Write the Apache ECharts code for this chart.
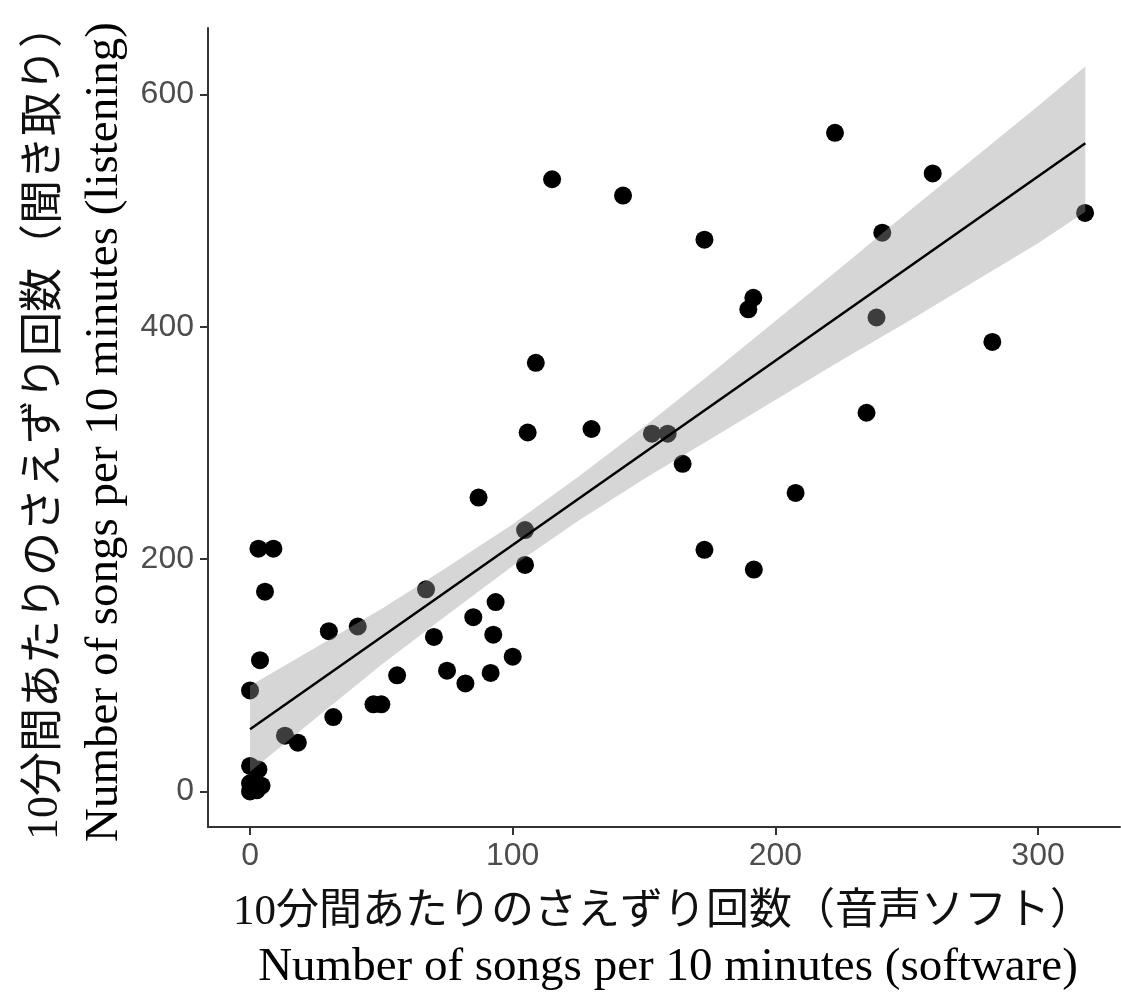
<!DOCTYPE html>
<html>
<head>
<meta charset="utf-8">
<script src="https://cdn.jsdelivr.net/npm/echarts@6/dist/echarts.min.js"></script>
<style>
  html, body { margin: 0; padding: 0; background: #fff; }
  #chart { width: 1121px; height: 997px; }
</style>
</head>
<body>
<div id="chart"></div>
<script>
// songs per 10 min: software count (x) vs listening count (y)
var softwareCounts = [0, 3.2, 8.9, 5.7, 3.8, 0, 3.2, 0, 4.4, 0, 2.5,
  13.3, 18.2, 30, 31.7, 41, 47, 50, 56, 67, 70, 75, 82, 85, 87, 91.6, 92.6, 93.5,
  100, 104.7, 104.7, 105.7, 108.8, 115, 130, 142, 153, 159, 164.7, 173, 173,
  189.7, 191.6, 191.8, 207.7, 222.7, 234.7, 238.5, 240.7, 259.9, 282.6, 317.9];
var listeningCounts = [87, 209, 209, 172, 113, 22, 19, 7, 5, 0, 1,
  48, 42, 138, 64, 142, 75, 75, 100, 174, 133, 104, 93, 150, 253, 102, 135, 163,
  116, 225, 195, 309, 369, 527, 312, 513, 308, 308, 282, 475, 208,
  415, 425, 191, 257, 567, 326, 408, 481, 532, 387, 498];

// fitted line ends
var fitX = [0, 318];
var fitY = [53.5, 558];

// confidence band
var bandX = [0, 25, 50, 75, 100, 125, 150, 175, 200, 225, 250, 275, 300, 318];
var bandUpper = [91, 124, 157, 193, 230, 271, 314, 359, 405, 451, 498, 544, 590, 624];
var bandLower = [17, 63, 109, 152, 194, 233, 269, 303, 337, 371, 404, 438, 472, 499];

var xTicks = [0, 100, 200, 300];
var yTicks = [0, 200, 400, 600];

var chart = echarts.init(document.getElementById("chart"));

var points = softwareCounts.map(function (x, i) {
  return [x, listeningCounts[i]];
});
var fitLine = fitX.map(function (x, i) {
  return [x, fitY[i]];
});

var titleJa = "'Liberation Serif', 'Noto Sans CJK JP'";

var option = {
  animation: false,
  backgroundColor: "#fff",
  grid: {
    left: 208,
    right: 1,
    top: 28,
    bottom: 170,
  },
  xAxis: {
    type: "value",
    min: -16,
    max: 331.2,
    splitLine: { show: false },
    axisLine: {
      onZero: false,
      lineStyle: { color: "#333", width: 2 },
    },
    axisTick: {
      customValues: xTicks,
      length: 8,
      lineStyle: { color: "#333", width: 2 },
    },
    axisLabel: {
      customValues: xTicks,
      margin: 13,
      color: "#4d4d4d",
      fontSize: 32,
      fontFamily: "'Liberation Sans Narrow', 'Liberation Sans', Arial",
    },
  },
  yAxis: {
    type: "value",
    min: -30.6,
    max: 657.2,
    splitLine: { show: false },
    axisLine: {
      onZero: false,
      lineStyle: { color: "#333", width: 2 },
    },
    axisTick: {
      customValues: yTicks,
      length: 8,
      lineStyle: { color: "#333", width: 2 },
    },
    axisLabel: {
      customValues: yTicks,
      margin: 14,
      color: "#4d4d4d",
      fontSize: 32,
      fontFamily: "'Liberation Sans', Arial",
    },
  },
  graphic: [
    {
      type: "text",
      x: 663,
      y: 913,
      style: {
        text: "10分間あたりのさえずり回数（音声ソフト）",
        font: "43px " + titleJa,
        fill: "#111",
        align: "center",
        verticalAlign: "middle",
      },
    },
    {
      type: "text",
      x: 668,
      y: 968,
      style: {
        text: "Number of songs per 10 minutes (software)",
        font: "47px 'Liberation Serif', serif",
        fill: "#000",
        align: "center",
        verticalAlign: "middle",
      },
    },
    {
      type: "text",
      x: 45,
      y: 422,
      rotation: Math.PI / 2,
      style: {
        text: "10分間あたりのさえずり回数（聞き取り）",
        font: "44px " + titleJa,
        fill: "#111",
        align: "center",
        verticalAlign: "middle",
      },
    },
    {
      type: "text",
      x: 105,
      y: 432,
      rotation: Math.PI / 2,
      style: {
        text: "Number of songs per 10 minutes (listening)",
        font: "47px 'Liberation Serif', serif",
        fill: "#000",
        align: "center",
        verticalAlign: "middle",
      },
    },
  ],
  series: [
    {
      name: "points",
      type: "scatter",
      z: 2,
      symbolSize: 18,
      itemStyle: { color: "#000", opacity: 1 },
      data: points,
    },
    {
      name: "band",
      type: "custom",
      z: 3,
      data: [[0, 0]],
      renderItem: function (params, api) {
        var pts = [];
        for (var i = 0; i < bandX.length; i++) {
          pts.push(api.coord([bandX[i], bandUpper[i]]));
        }
        for (var j = bandX.length - 1; j >= 0; j--) {
          pts.push(api.coord([bandX[j], bandLower[j]]));
        }
        return {
          type: "polygon",
          shape: { points: pts },
          style: { fill: "rgba(153,153,153,0.4)" },
        };
      },
    },
    {
      name: "fit",
      type: "line",
      z: 4,
      symbol: "none",
      lineStyle: { color: "#000", width: 2.5 },
      data: fitLine,
    },
  ],
};
chart.setOption(option);
</script>
</body>
</html>
